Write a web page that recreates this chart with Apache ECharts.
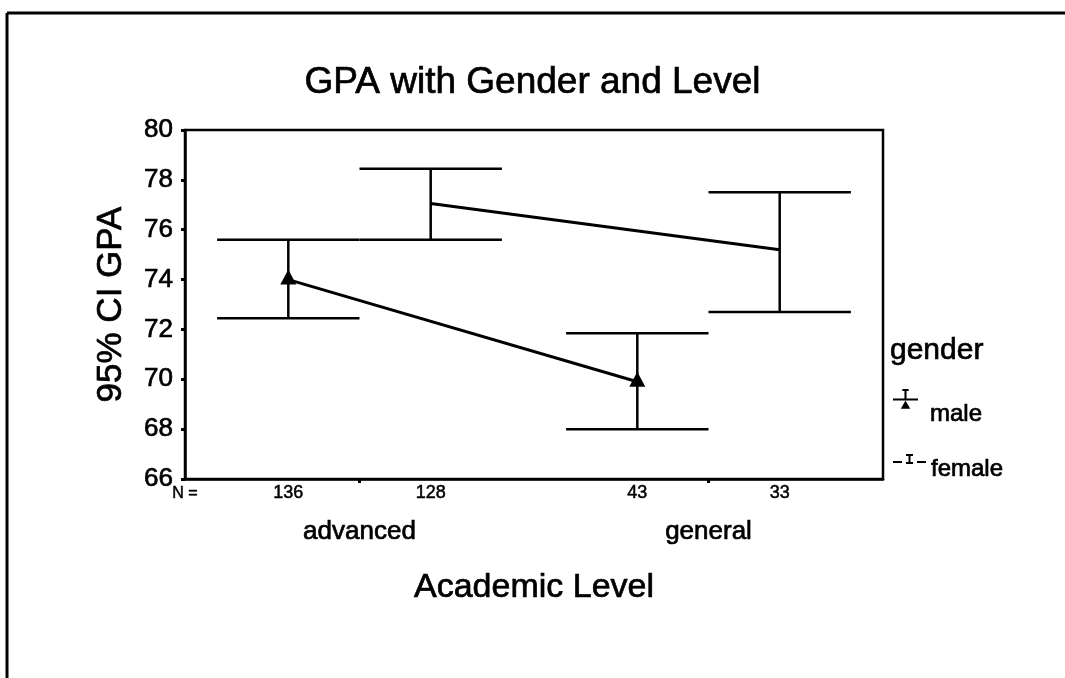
<!DOCTYPE html>
<html>
<head>
<meta charset="utf-8">
<script src="https://cdn.jsdelivr.net/npm/echarts@6/dist/echarts.min.js"></script>
<style>
  html, body { margin: 0; padding: 0; background: #fff; }
  #chart { width: 1065px; height: 678px; }
</style>
</head>
<body>
<div id="chart"></div>
<script>
// Academic levels on the x axis
const levels = ['advanced', 'general'];

// Mean GPA and 95% confidence interval per level
const maleMean = [74.0, 69.9];
const maleLow = [72.45, 68.0];
const maleHigh = [75.6, 71.85];
const femaleMean = [77.05, 75.2];
const femaleLow = [75.6, 72.7];
const femaleHigh = [78.45, 77.5];

// Group sizes printed under each bar
const maleN = [136, 43];
const femaleN = [128, 33];

// Y axis range
const yMin = 66;
const yMax = 80;
const yStep = 2;

const FONT = '"Liberation Sans", Arial, sans-serif';
const INK = '#000';
// a thin outline in the text colour gives the heavier print look
const HEAVY = { textBorderColor: INK, textBorderWidth: 0.7 };

// Horizontal shift of each gender inside a level band, as a share of the band
const SHIFT = 0.204;

function errorBars(name, means, lows, highs, ns, side, withTriangle) {
  return {
    type: 'custom',
    name: name,
    clip: false,
    itemStyle: { color: INK },
    data: levels.map((lv, i) => [i, means[i], lows[i], highs[i], ns[i]]),
    renderItem: function (params, api) {
      const i = api.value(0);
      const band = api.size([1, 0])[0];
      const dx = band * SHIFT * side;
      const half = band * SHIFT;
      const pm = api.coord([i, api.value(1)]);
      const pl = api.coord([i, api.value(2)]);
      const ph = api.coord([i, api.value(3)]);
      const x = pm[0] + dx;
      const stroke = { stroke: INK, lineWidth: 2.5 };
      const kids = [
        { type: 'line', shape: { x1: x, y1: pl[1], x2: x, y2: ph[1] }, style: stroke },
        { type: 'line', shape: { x1: x - half, y1: pl[1], x2: x + half, y2: pl[1] }, style: stroke },
        { type: 'line', shape: { x1: x - half, y1: ph[1], x2: x + half, y2: ph[1] }, style: stroke }
      ];
      if (i + 1 < means.length) {
        const pn = api.coord([i + 1, means[i + 1]]);
        kids.push({
          type: 'line',
          shape: { x1: x, y1: pm[1], x2: pn[0] + dx, y2: pn[1] },
          style: { stroke: INK, lineWidth: 3 }
        });
      }
      if (withTriangle) {
        kids.push({
          type: 'polygon',
          shape: { points: [[x, pm[1] - 10], [x + 8, pm[1] + 5], [x - 8, pm[1] + 5]] },
          style: { fill: INK }
        });
      }
      const base = api.coord([i, yMin]);
      kids.push({
        type: 'text',
        x: x,
        y: base[1] + 14,
        style: {
          text: String(api.value(4)),
          align: 'center',
          verticalAlign: 'middle',
          font: '18px ' + FONT,
          fill: INK,
          stroke: INK,
          lineWidth: 0.5
        }
      });
      return { type: 'group', children: kids };
    }
  };
}

const maleIcon = 'path://M9,0H15V2H9Z M11,0H13V10H11Z M0,9H24V11H0Z M12,11L16.5,19H7.5Z';
const femaleIcon = 'path://M0,7H9V9H0Z M24,7H33V9H24Z M13,0H20V2H13Z M15.5,0H17.5V10H15.5Z M13,8H20V10H13Z';

// legend label sits below its icon: a tall empty spacer sets the line height
// and the name is pushed to the bottom of that line
function legendText(spacer, gapLeft) {
  return {
    formatter: name => '{s|}{t|' + name + '}',
    textStyle: {
      rich: {
        s: { width: gapLeft, height: spacer },
        t: Object.assign({ fontFamily: FONT, fontSize: 24, color: INK, verticalAlign: 'bottom' }, HEAVY)
      }
    }
  };
}

const chart = echarts.init(document.getElementById('chart'), null, { renderer: 'canvas' });

chart.setOption({
  animation: false,
  color: [INK],
  backgroundColor: '#fff',
  title: [
    {
      text: 'GPA with Gender and Level',
      left: 'center',
      top: 59,
      textStyle: Object.assign({ fontFamily: FONT, fontSize: 37, fontWeight: 'normal', color: INK }, HEAVY)
    },
    {
      text: 'gender',
      left: 885,
      top: 331,
      textStyle: Object.assign({ fontFamily: FONT, fontSize: 30, fontWeight: 'normal', color: INK }, HEAVY)
    }
  ],
  legend: [
    Object.assign({
      data: [{ name: 'male', icon: maleIcon }],
      left: 888,
      top: 384,
      orient: 'vertical',
      itemWidth: 25,
      itemHeight: 20,
      selectedMode: false
    }, legendText(54, 7)),
    Object.assign({
      data: [{ name: 'female', icon: femaleIcon }],
      left: 888,
      top: 448,
      orient: 'vertical',
      itemWidth: 33,
      itemHeight: 11,
      selectedMode: false
    }, legendText(44, 0))
  ],
  grid: {
    left: 185,
    right: 182,
    top: 130,
    bottom: 199,
    show: true,
    borderColor: INK,
    borderWidth: 2.5,
    backgroundColor: 'transparent'
  },
  xAxis: {
    type: 'category',
    data: levels,
    boundaryGap: true,
    name: 'Academic Level',
    nameLocation: 'middle',
    nameGap: 92,
    nameTextStyle: Object.assign({ fontFamily: FONT, fontSize: 34, color: INK }, HEAVY),
    axisLine: { lineStyle: { color: INK, width: 2.5 } },
    axisTick: { show: true, alignWithLabel: true, length: 4, lineStyle: { color: INK, width: 3 } },
    axisLabel: Object.assign({ fontFamily: FONT, fontSize: 26, color: INK, margin: 40 }, HEAVY),
    splitLine: { show: false }
  },
  yAxis: {
    type: 'value',
    min: yMin,
    max: yMax,
    interval: yStep,
    name: '95% CI GPA',
    nameLocation: 'middle',
    nameGap: 56,
    nameTextStyle: Object.assign({ fontFamily: FONT, fontSize: 35, color: INK }, HEAVY),
    axisLine: { show: true, lineStyle: { color: INK, width: 2.5 } },
    axisTick: { show: true, length: 4, lineStyle: { color: INK, width: 3 } },
    axisLabel: Object.assign({ fontFamily: FONT, fontSize: 26, color: INK, margin: 12 }, HEAVY),
    splitLine: { show: false }
  },
  graphic: [
    { type: 'line', shape: { x1: 7, y1: 13, x2: 1065, y2: 13 }, style: { stroke: INK, lineWidth: 3 } },
    { type: 'line', shape: { x1: 7, y1: 13, x2: 7, y2: 678 }, style: { stroke: INK, lineWidth: 3 } },
    {
      type: 'text',
      x: 185,
      y: 494,
      style: {
        text: 'N =', align: 'center', verticalAlign: 'middle',
        font: '16px ' + FONT, fill: INK, stroke: INK, lineWidth: 0.5
      }
    }
  ],
  series: [
    errorBars('male', maleMean, maleLow, maleHigh, maleN, -1, true),
    errorBars('female', femaleMean, femaleLow, femaleHigh, femaleN, 1, false)
  ]
});
</script>
</body>
</html>
